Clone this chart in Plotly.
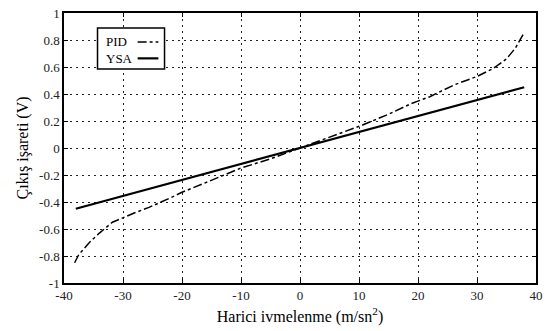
import plotly.graph_objects as go

# PID response
pid_x = [-38.2, -37.5, -36.5, -35.7, -34, -31.8, -28, -25.6, -22, -20.1, -15.6, -10.1, -5, 0, 4.9, 10.6, 15, 18.9, 22, 26.1, 30, 32.8, 35, 36.5, 37.8]
pid_y = [-0.85, -0.79, -0.74, -0.70, -0.63, -0.55, -0.48, -0.44, -0.37, -0.33, -0.25, -0.15, -0.08, 0.0, 0.08, 0.17, 0.25, 0.33, 0.38, 0.467, 0.53, 0.59, 0.66, 0.74, 0.84]
# YSA response
ysa_x = [-38, 0, 38]
ysa_y = [-0.45, 0.0, 0.45]

x_ticks = [-40, -30, -20, -10, 0, 10, 20, 30, 40]
y_ticks = [-1, -0.8, -0.6, -0.4, -0.2, 0, 0.2, 0.4, 0.6, 0.8, 1]
y_labels = ["-1", "-0.8", "-0.6", "-0.4", "-0.2", "0", "0.2", "0.4", "0.6", "0.8", "1"]
series_names = ["PID", "YSA"]

font = "Liberation Serif, serif"
pid_line = dict(color="black", width=1.5, dash="dashdot")
ysa_line = dict(color="black", width=2.2)

fig = go.Figure()
fig.add_trace(go.Scatter(x=pid_x, y=pid_y, mode="lines", name=series_names[0], line=pid_line))
fig.add_trace(go.Scatter(x=ysa_x, y=ysa_y, mode="lines", name=series_names[1], line=ysa_line))

axis_common = dict(showline=True, linecolor="black", linewidth=1.5, mirror="ticks",
                   ticks="inside", ticklen=4, tickcolor="black",
                   showgrid=True, gridcolor="#222", griddash="2px,4px", gridwidth=1.2,
                   zeroline=False, tickfont=dict(family=font, size=13, color="#222"))
fig.update_xaxes(range=[-40, 40], tickvals=x_ticks, ticktext=[str(v) for v in x_ticks],
                 title=dict(text="Harici ivmelenme (m/sn<sup>2</sup>)", font=dict(family=font, size=16, color="black"), standoff=8),
                 **axis_common)
fig.update_yaxes(range=[-1, 1], tickvals=y_ticks, ticktext=y_labels,
                 title=dict(text="Çıkış işareti (V)", font=dict(family=font, size=16, color="black"), standoff=6),
                 **axis_common)

# manual legend (text then line sample, as in the reference)
fig.add_shape(type="rect", xref="paper", yref="paper", x0=0.071, x1=0.213, y0=0.793, y1=0.944,
              line=dict(color="black", width=1.5), fillcolor="white", layer="above")
leg_y = [0.893, 0.832]
for name, ly, ln in zip(series_names, leg_y, [pid_line, ysa_line]):
    fig.add_annotation(xref="paper", yref="paper", x=0.085, y=ly, text=name, showarrow=False,
                       xanchor="left", yanchor="middle", font=dict(family=font, size=13, color="black"))
    fig.add_shape(type="line", xref="paper", yref="paper", x0=0.156, x1=0.200, y0=ly, y1=ly,
                  line=ln, layer="above")

fig.update_layout(width=549, height=331, margin=dict(l=64, r=6, t=13, b=48),
                  plot_bgcolor="white", paper_bgcolor="white", showlegend=False,
                  font=dict(family=font))
fig.write_html("out.html")
